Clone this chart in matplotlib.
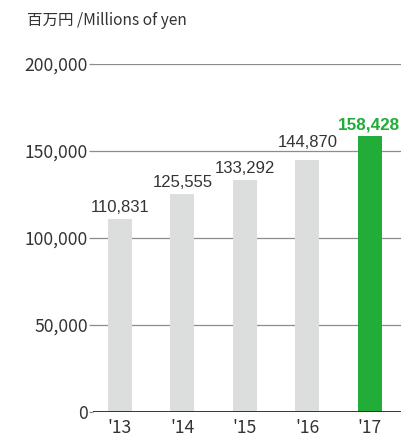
import matplotlib
matplotlib.use("Agg")
import matplotlib.pyplot as plt

years = ["'13", "'14", "'15", "'16", "'17"]
values = [110831, 125555, 133292, 144870, 158428]
yticks = [0, 50000, 100000, 150000, 200000]
ytick_labels = ["0", "50,000", "100,000", "150,000", "200,000"]
unit_label = "百万円 /Millions of yen"

plt.rcParams['font.family'] = ['Noto Sans CJK JP', 'DejaVu Sans']

fig = plt.figure(figsize=(4.01, 4.37), dpi=100)
ax = fig.add_axes([0.232, 0.0572, 0.768, 0.7963])

x = list(range(len(years)))
colors = ['#dcdddd'] * (len(years) - 1) + ['#22ac38']
ax.bar(x, values, width=0.38, color=colors, zorder=2)

extra = {3: 3500}
for i, v in enumerate(values):
    last = i == len(values) - 1
    ax.text(i - (0.02 if last else 0), v + 4000 + extra.get(i, 0), f"{v:,}", ha='center', va='baseline',
            fontsize=12.3 if last else 12, fontweight='bold' if last else 'normal',
            color='#22ac38' if last else '#333333',
            family=['Liberation Sans'])

ax.set_xlim(-0.43, 4.5)
ax.set_ylim(0, 200000)
ax.set_yticks(yticks)
ax.set_yticklabels(ytick_labels)
ax.set_xticks(x)
ax.set_xticklabels(years)
for y in yticks[1:]:
    ax.axhline(y, color='#8c8c8c', linewidth=0.9, zorder=1)
ax.axhline(0, color='#2a2420', linewidth=1.3, zorder=3)

for s in ax.spines.values():
    s.set_visible(False)
ax.tick_params(axis='y', length=3, width=0.9, color='#8c8c8c', pad=0.5, labelsize=12.6, labelcolor='#333333')
ax.tick_params(axis='x', length=0, pad=5, labelsize=12.6, labelcolor='#333333')

fig.text(0.067, 0.952, unit_label, fontsize=11.2, color='#333333', va='center', ha='left')

fig.savefig('out.png', dpi=100)
